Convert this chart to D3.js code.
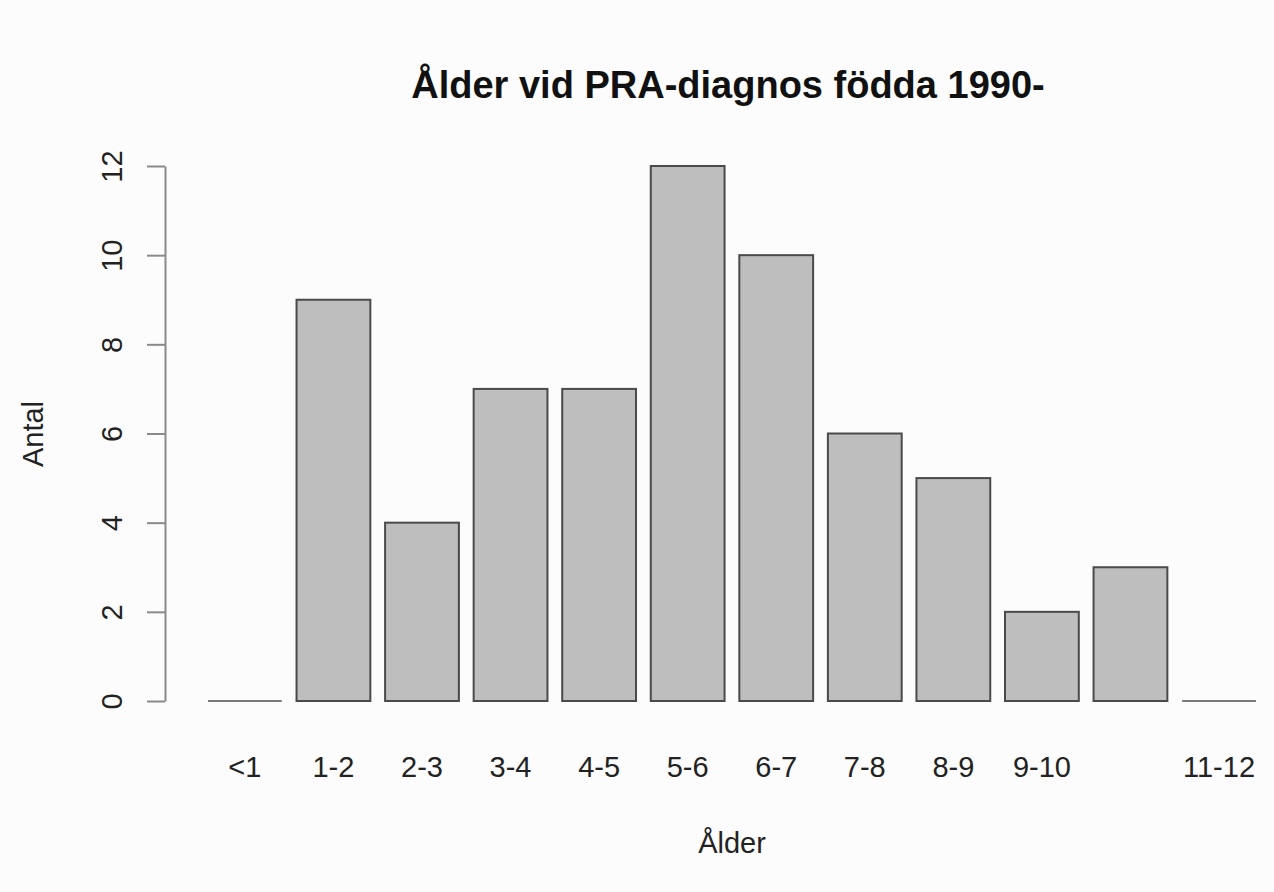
<!DOCTYPE html>
<html>
<head>
<meta charset="utf-8">
<script src="https://cdn.jsdelivr.net/npm/d3@7"></script>
<style>
  body { margin: 0; background: #fcfcfc; }
  svg text { font-family: "Liberation Sans", Arial, sans-serif; fill: #222; }
</style>
</head>
<body>
<div id="chart"></div>
<script>
// age groups, counts, and the labels R managed to print (10-11 got dropped)
var categories = ["<1", "1-2", "2-3", "3-4", "4-5", "5-6", "6-7", "7-8", "8-9", "9-10", "10-11", "11-12"];
var counts = [0, 9, 4, 7, 7, 12, 10, 6, 5, 2, 3, 0];
var tickLabels = ["<1", "1-2", "2-3", "3-4", "4-5", "5-6", "6-7", "7-8", "8-9", "9-10", "", "11-12"];
var yTicks = [0, 2, 4, 6, 8, 10, 12];

var width = 1274, height = 892;
var data = categories.map(function(c, i) { return {cat: c, n: counts[i], label: tickLabels[i]}; });

var svg = d3.select("#chart").append("svg")
    .attr("width", width)
    .attr("height", height);

svg.append("rect").attr("width", width).attr("height", height).attr("fill", "#fcfcfc");

// band = 1, gap = 0.2 like barplot defaults
var x = d3.scaleBand()
    .domain(categories)
    .range([200.6, 1263.3])
    .paddingInner(0.2 / 1.2)
    .paddingOuter(0.1 / 1.2);

var y = d3.scaleLinear()
    .domain([0, 12])
    .range([701, 166]);

// bars
svg.append("g").selectAll("rect")
    .data(data.filter(function(d) { return d.n > 0; }))
    .enter().append("rect")
    .attr("x", function(d) { return x(d.cat); })
    .attr("y", function(d) { return y(d.n); })
    .attr("width", x.bandwidth())
    .attr("height", function(d) { return y(0) - y(d.n); })
    .attr("fill", "#bebebe")
    .attr("stroke", "#4a4a4a")
    .attr("stroke-width", 2);

// zero-height bars show as a flat line
svg.append("g").selectAll("line")
    .data(data.filter(function(d) { return d.n === 0; }))
    .enter().append("line")
    .attr("x1", function(d) { return x(d.cat); })
    .attr("x2", function(d) { return x(d.cat) + x.bandwidth(); })
    .attr("y1", y(0))
    .attr("y2", y(0))
    .attr("stroke", "#7a7a7a")
    .attr("stroke-width", 2);

// y axis
var yAxis = svg.append("g")
    .attr("transform", "translate(165,0)")
    .call(d3.axisLeft(y).tickValues(yTicks).tickSize(18).tickSizeOuter(0).tickPadding(0).tickFormat(d3.format("d")));
yAxis.select(".domain").attr("stroke", "#8a8a8a").attr("stroke-width", 2);
yAxis.selectAll(".tick line").attr("stroke", "#8a8a8a").attr("stroke-width", 2);
yAxis.selectAll(".tick text")
    .attr("transform", "translate(-43,0) rotate(-90)")
    .attr("x", 0)
    .attr("dy", 0)
    .attr("y", 0)
    .attr("text-anchor", "middle")
    .style("font-size", "29px")
    .style("fill", "#222");

// x labels, no axis line
svg.append("g").selectAll("text")
    .data(data)
    .enter().append("text")
    .attr("x", function(d) { return x(d.cat) + x.bandwidth() / 2; })
    .attr("y", 777)
    .attr("text-anchor", "middle")
    .style("font-size", "29px")
    .text(function(d) { return d.label; });

svg.append("text")
    .attr("x", 728)
    .attr("y", 98)
    .attr("text-anchor", "middle")
    .style("font-size", "38px")
    .style("font-weight", "bold")
    .style("fill", "#111")
    .text("Ålder vid PRA-diagnos födda 1990-");

svg.append("text")
    .attr("x", 732)
    .attr("y", 853)
    .attr("text-anchor", "middle")
    .style("font-size", "29px")
    .text("Ålder");

svg.append("text")
    .attr("transform", "translate(43,434) rotate(-90)")
    .attr("text-anchor", "middle")
    .style("font-size", "29px")
    .text("Antal");
</script>
</body>
</html>
